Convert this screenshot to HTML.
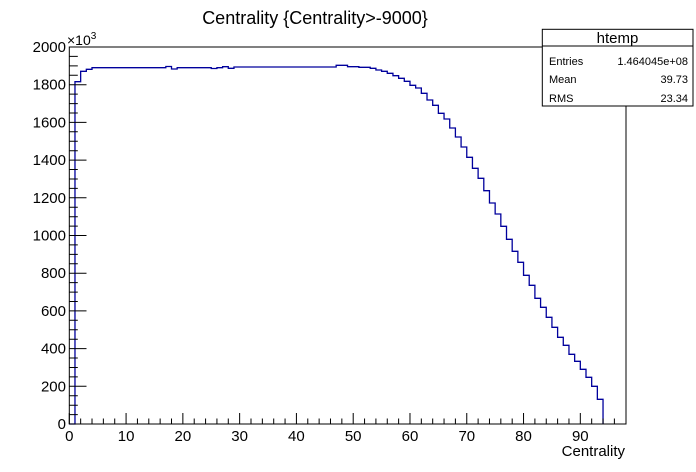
<!DOCTYPE html>
<html><head><meta charset="utf-8"><style>
html,body{margin:0;padding:0;background:#fff;}
svg{display:block;font-family:"Liberation Sans",Arial,sans-serif;}
</style></head><body>
<svg width="696" height="472" viewBox="0 0 696 472" xmlns="http://www.w3.org/2000/svg">
<rect width="696" height="472" fill="#fff"/>
<text x="315" y="24" font-size="18" text-anchor="middle">Centrality {Centrality&gt;-9000}</text>
<rect x="69.3" y="47" width="556.7" height="377" fill="none" stroke="#000" stroke-width="1"/>
<g transform="translate(69.3,0) scale(5.678,1)">
<path fill="none" stroke="#00009c" stroke-width="1.3" vector-effect="non-scaling-stroke" d="M0 424 H1 V81.7 H2 V71.3 H3 V69.3 H4 V67.7 H17 V66.5 H18 V69 H19 V67.7 H25 V68.5 H26 V67.7 H27 V66.7 H28 V68.3 H29 V67 H47 V65.3 H49 V66.7 H51 V67.3 H53 V68.3 H54 V70 H55 V71.3 H56 V73.3 H57 V75.7 H58 V78.3 H59 V81.3 H60 V85.3 H61 V88 H62 V93.3 H63 V100 H64 V105.3 H65 V113.3 H66 V119 H67 V128 H68 V137 H69 V147 H70 V157.3 H71 V168.3 H72 V178.3 H73 V190.7 H74 V203 H75 V214 H76 V226.3 H77 V239.3 H78 V251.3 H79 V262.3 H80 V275.3 H81 V285.3 H82 V298.3 H83 V307.3 H84 V317.3 H85 V327.3 H86 V337.3 H87 V345.3 H88 V354.3 H89 V361.3 H90 V369.3 H91 V377.3 H92 V386.3 H93 V399.3 H94 V424"/>
<path fill="none" stroke="#000" stroke-width="1" vector-effect="non-scaling-stroke" d="M0 424V413 M10 424V413 M20 424V413 M30 424V413 M40 424V413 M50 424V413 M60 424V413 M70 424V413 M80 424V413 M90 424V413 M2 424V418.5 M4 424V418.5 M6 424V418.5 M8 424V418.5 M12 424V418.5 M14 424V418.5 M16 424V418.5 M18 424V418.5 M22 424V418.5 M24 424V418.5 M26 424V418.5 M28 424V418.5 M32 424V418.5 M34 424V418.5 M36 424V418.5 M38 424V418.5 M42 424V418.5 M44 424V418.5 M46 424V418.5 M48 424V418.5 M52 424V418.5 M54 424V418.5 M56 424V418.5 M58 424V418.5 M62 424V418.5 M64 424V418.5 M66 424V418.5 M68 424V418.5 M72 424V418.5 M74 424V418.5 M76 424V418.5 M78 424V418.5 M82 424V418.5 M84 424V418.5 M86 424V418.5 M88 424V418.5 M92 424V418.5 M94 424V418.5 M96 424V418.5"/>
</g>
<path fill="none" stroke="#000" stroke-width="1" d="M69.3 424H86.5 M69.3 386.3H86.5 M69.3 348.6H86.5 M69.3 310.9H86.5 M69.3 273.2H86.5 M69.3 235.5H86.5 M69.3 197.8H86.5 M69.3 160.1H86.5 M69.3 122.4H86.5 M69.3 84.7H86.5 M69.3 47H86.5
M69.3 414.6H77.8 M69.3 405.2H77.8 M69.3 395.7H77.8 M69.3 376.9H77.8 M69.3 367.5H77.8 M69.3 358.0H77.8 M69.3 339.2H77.8 M69.3 329.8H77.8 M69.3 320.3H77.8 M69.3 301.5H77.8 M69.3 292.1H77.8 M69.3 282.6H77.8 M69.3 263.8H77.8 M69.3 254.4H77.8 M69.3 244.9H77.8 M69.3 226.1H77.8 M69.3 216.7H77.8 M69.3 207.2H77.8 M69.3 188.4H77.8 M69.3 179.0H77.8 M69.3 169.5H77.8 M69.3 150.7H77.8 M69.3 141.3H77.8 M69.3 131.8H77.8 M69.3 113.0H77.8 M69.3 103.6H77.8 M69.3 94.1H77.8 M69.3 75.3H77.8 M69.3 65.9H77.8 M69.3 56.4H77.8"/>
<g font-size="15" text-anchor="end">
<text x="66" y="429">0</text><text x="66" y="391.3">200</text><text x="66" y="353.6">400</text><text x="66" y="315.9">600</text><text x="66" y="278.2">800</text><text x="66" y="240.5">1000</text><text x="66" y="202.8">1200</text><text x="66" y="165.1">1400</text><text x="66" y="127.4">1600</text><text x="66" y="89.7">1800</text><text x="66" y="52">2000</text>
</g>
<text x="67" y="45" font-size="14">×10<tspan font-size="10" dy="-6">3</tspan></text>
<g font-size="15" text-anchor="middle">
<text x="69.3" y="441">0</text><text x="126.1" y="441">10</text><text x="182.9" y="441">20</text><text x="239.6" y="441">30</text><text x="296.4" y="441">40</text><text x="353.2" y="441">50</text><text x="410" y="441">60</text><text x="466.8" y="441">70</text><text x="523.5" y="441">80</text><text x="580.3" y="441">90</text>
</g>
<text x="625" y="456" font-size="15" text-anchor="end">Centrality</text>
<rect x="542.3" y="29.3" width="150.7" height="76.7" fill="#fff" stroke="#000" stroke-width="1"/>
<line x1="542.3" y1="46" x2="693" y2="46" stroke="#000" stroke-width="1"/>
<text x="617.5" y="43" font-size="15" text-anchor="middle">htemp</text>
<g font-size="11">
<text x="549" y="65">Entries</text><text x="688" y="65" text-anchor="end">1.464045e+08</text>
<text x="549" y="83">Mean</text><text x="688" y="83" text-anchor="end">39.73</text>
<text x="549" y="102">RMS</text><text x="688" y="102" text-anchor="end">23.34</text>
</g>
</svg>
</body></html>
